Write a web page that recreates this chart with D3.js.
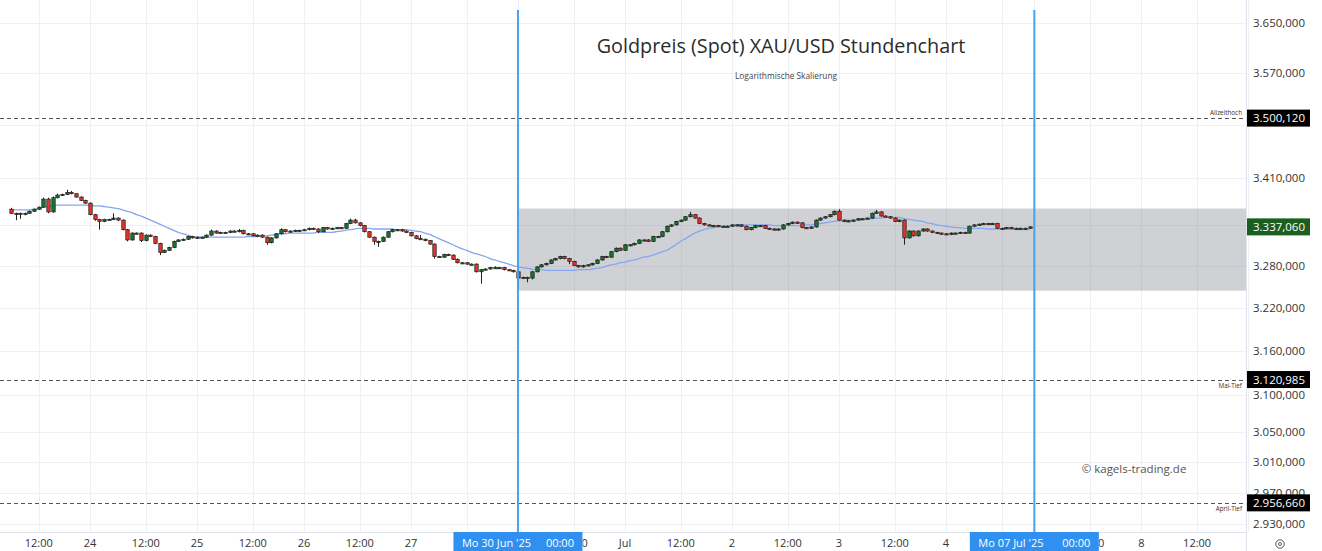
<!DOCTYPE html>
<html><head><meta charset="utf-8">
<script src="https://cdn.jsdelivr.net/npm/d3@7"></script>
<style>html,body{margin:0;padding:0;background:#fff;}svg{display:block;font-family:"Open Sans",sans-serif;}</style>
</head><body><svg id="c" width="1322" height="551"></svg>
<script>
// ---- trading sessions (hourly bars, CEST) ----
const sessionDays = ["2025-06-23","2025-06-24","2025-06-25","2025-06-26","2025-06-27","2025-06-30","2025-07-01","2025-07-02","2025-07-03","2025-07-04","2025-07-07","2025-07-08","2025-07-09"];
const sessionStartHour = [6,0,0,0,0,0,0,0,0,0,0,0,0];
const sessionBars = [17,23,23,23,23,23,23,23,23,19,23,23,23];

// ---- closes per day ----
const firstOpen = 3363;
const closeJun23 = [3357,3357,3356,3357,3360,3363,3366,3378,3359,3380,3384,3385,3388,3386,3381,3376,3372];
const closeJun24 = [3355,3348,3345,3348,3348,3350,3347,3333,3318,3328,3328,3317,3325,3323,3313,3300,3303,3307,3316,3318,3319,3323,3321];
const closeJun25 = [3322,3322,3325,3331,3328,3329,3329,3331,3330,3332,3327,3327,3324,3325,3322,3314,3321,3327,3333,3330,3331,3332,3332];
const closeJun26 = [3333,3335,3334,3330,3336,3334,3335,3336,3335,3342,3347,3343,3339,3330,3322,3316,3316,3322,3330,3333,3333,3331,3329];
const closeJun27 = [3324,3320,3319,3317,3312,3294,3293,3297,3296,3290,3285,3285,3283,3283,3272,3275,3276,3278,3278,3278,3275,3274,3272];
const closeJun30 = [3263,3264,3263,3272,3279,3282,3284,3289,3291,3294,3291,3287,3281,3279,3281,3282,3284,3289,3294,3293,3301,3306,3303];
const closeJul01 = [3311,3311,3313,3318,3318,3316,3323,3323,3330,3338,3340,3345,3347,3352,3355,3350,3342,3340,3339,3339,3338,3338,3338];
const closeJul02 = [3340,3340,3338,3333,3336,3339,3339,3335,3334,3334,3334,3340,3342,3344,3343,3336,3335,3337,3347,3350,3352,3355,3360];
const closeJul03 = [3347,3345,3346,3347,3349,3349,3350,3357,3359,3353,3352,3350,3345,3347,3321,3331,3324,3331,3334,3331,3329,3328,3327];
const closeJul04 = [3326,3328,3328,3329,3328,3338,3340,3341,3342,3341,3342,3335,3335,3336,3335,3335,3335,3335,3337.06];

// ---- wick lengths above body / below body (USD), one row per day ----
const wickUp = [
 2,1,1,1,1,1,1,2,2,2,2,1,4,2,1,1,1,
 1,1,1,1,1,7,1,1,1,1,1,1,1,1,1,1,1,1,1,1,1,1,1,
 1,1,1,2,1,1,1,1,1,2,1,1,1,1,1,1,1,1,2,1,1,1,1,
 1,1,1,1,1,1,1,1,1,1,2,2,1,1,1,1,1,1,1,1,1,1,1,
 1,1,5,1,1,1,1,1,1,1,1,1,1,1,1,1,1,1,2,1,1,1,1,
 1,1,1,1,1,1,1,1,1,1,1,1,1,1,1,1,1,1,1,1,1,1,1,
 1,1,1,1,1,1,1,1,1,1,1,1,1,1,4,1,1,1,1,1,1,1,1,
 1,1,1,1,1,1,1,1,1,1,1,1,1,1,1,1,1,1,1,1,1,1,1,
 3,1,1,1,1,1,1,1,3,1,1,1,1,1,1,1,1,1,1,1,1,1,1,
 1,1,1,1,1,1,1,1,1,1,1,1,1,1,1,1,1,1,1];
const wickDown = [
 1,10,7,2,1,1,1,1,2,1,1,1,1,1,1,1,1,
 1,2,12,1,1,1,1,1,2,1,1,2,1,1,1,4,1,1,1,1,1,1,1,
 1,1,1,1,1,1,1,1,1,1,1,1,1,1,1,3,1,1,1,1,1,1,1,
 1,1,1,2,1,1,1,1,1,1,1,1,1,1,1,5,8,1,1,1,1,1,1,
 1,1,1,1,1,3,1,1,1,1,1,1,1,1,1,17,1,1,1,1,1,1,1,
 15,1,6,2,1,1,1,1,1,1,1,4,1,1,1,1,1,1,1,1,1,1,1,
 1,1,1,1,1,1,1,1,1,1,1,1,1,1,1,1,1,1,1,1,1,1,1,
 1,1,1,1,1,1,1,1,1,1,1,1,1,1,1,1,1,1,1,1,1,1,1,
 1,1,1,1,1,1,1,1,1,1,1,1,1,1,10,1,1,1,1,1,1,1,1,
 1,1,1,1,1,1,1,1,1,1,1,1,1,1,1,1,1,1,1];

// ---- moving average, one value per bar ----
const maValues = [
 3362,3362,3362,3362,3362,3363,3364,3366,3367,3368,
 3369,3369,3369,3369,3369,3369,3369,3369,3368,3368,
 3367,3366,3365,3364,3362,3360,3358,3355,3353,3350,
 3347,3344,3341,3338,3335,3332,3329,3327,3325,3323,
 3322,3322,3322,3322,3322,3322,3322,3322,3322,3322,
 3322,3323,3323,3323,3324,3324,3325,3326,3327,3327,
 3328,3328,3328,3328,3328,3328,3329,3329,3329,3329,
 3330,3331,3332,3333,3334,3335,3335,3335,3334,3334,
 3334,3334,3334,3333,3333,3333,3332,3331,3330,3328,
 3326,3323,3320,3317,3314,3311,3308,3305,3303,3300,
 3298,3296,3294,3291,3289,3287,3285,3283,3281,3279,
 3278,3277,3276,3275,3275,3274,3274,3274,3274,3274,
 3274,3274,3275,3275,3275,3276,3277,3278,3280,3282,
 3283,3285,3286,3288,3289,3291,3293,3294,3296,3298,
 3301,3303,3307,3311,3316,3320,3324,3328,3331,3333,
 3335,3336,3337,3338,3339,3339,3340,3340,3340,3340,
 3340,3340,3340,3340,3339,3339,3339,3339,3339,3339,
 3339,3340,3340,3341,3342,3343,3344,3345,3346,3346,
 3347,3347,3348,3348,3349,3349,3350,3350,3351,3351,
 3351,3351,3349,3348,3347,3346,3345,3343,3342,3340,
 3339,3338,3337,3336,3336,3335,3335,3335,3335,3335,
 3334,3334,3334,3334,3334,3334,3333,3333,3333,3333];

// ---- axis ticks ----
const yGridValues = [3650,3570,3490,3410,3340,3280,3220,3160,3100,3050,3010,2970,2930];
const yTickValues = [3650,3570,3410,3280,3220,3160,3100,3050,3010,2970,2930];
const xTickDays  = ["2025-06-23","2025-06-24","2025-06-24","2025-06-25","2025-06-25","2025-06-26","2025-06-26","2025-06-27","2025-06-27","2025-06-30","2025-06-30","2025-07-01","2025-07-01","2025-07-02","2025-07-02","2025-07-03","2025-07-03","2025-07-04","2025-07-04","2025-07-07","2025-07-07","2025-07-08","2025-07-08","2025-07-09"];
const xTickHours = [12,0,12,0,12,0,12,0,12,0,12,0,12,0,12,0,12,0,12,0,12,0,12,0];
const xTickLabels= ["12:00","24","12:00","25","12:00","26","12:00","27","12:00","30","12:00","Jul","12:00","2","12:00","3","12:00","4","12:00","7","12:00","8","12:00","9"];

// ---- levels & annotations ----
const levelValues = [3500.12, 3120.985, 2956.66];
const levelLabels = ["Allzeithoch", "Mai-Tief", "April-Tief"];
const levelBadges = ["3.500,120", "3.120,985", "2.956,660"];
const zoneRange = [3245, 3364];
const markerDays = ["2025-06-30", "2025-07-07"];
const markerTexts = ["Mo 30 Jun '25", "Mo 07 Jul '25"];
const lastPrice = 3337.06;
const lastPriceLabel = "3.337,060";
const titleText = "Goldpreis (Spot) XAU/USD Stundenchart";
const subtitleText = "Logarithmische Skalierung";
const watermarkText = "© kagels-trading.de";

// ================== drawing ==================
const W = 1322, H = 551, plotR = 1246, axisY = 532, badgeW = 129;
const svg = d3.select("#c");

function barIndex(day, hour) {
  const k = sessionDays.indexOf(day);
  let s = 0;
  for (let j = 0; j < k; j++) s += sessionBars[j];
  return s + hour - sessionStartHour[k];
}

const closes = [].concat(closeJun23, closeJun24, closeJun25, closeJun26, closeJun27, closeJun30, closeJul01, closeJul02, closeJul03, closeJul04);
const bars = closes.map((c, i) => {
  const o = i === 0 ? firstOpen : closes[i - 1];
  return { i, o, c, h: Math.max(o, c) + wickUp[i], l: Math.min(o, c) - wickDown[i] };
});

const x = d3.scaleLinear().domain([-2.34, 265.5]).range([0, plotR]);
const y = d3.scaleLog().domain([2930, 3650]).range([523.5, 22.5]);

const deFmt = v => d3.format(",.3f")(v).replace(/,/g, "#").replace(".", ",").replace("#", ".");

// grid
const gGrid = svg.append("g");
gGrid.selectAll("line.h").data(yGridValues).join("line")
  .attr("x1", 0).attr("x2", plotR)
  .attr("y1", d => Math.round(y(d)) + 0.5).attr("y2", d => Math.round(y(d)) + 0.5)
  .attr("stroke", "#eff0f3").attr("stroke-width", 1);
const xTickIdx = xTickDays.map((d, k) => barIndex(d, xTickHours[k]));
gGrid.selectAll("line.v").data(xTickIdx).join("line")
  .attr("x1", d => Math.round(x(d)) + 0.5).attr("x2", d => Math.round(x(d)) + 0.5)
  .attr("y1", 0).attr("y2", axisY)
  .attr("stroke", "#eff0f3").attr("stroke-width", 1);

// zone box
const markerIdx = markerDays.map(d => barIndex(d, 0));
svg.append("rect")
  .attr("x", x(markerIdx[0])).attr("width", plotR - x(markerIdx[0]))
  .attr("y", y(zoneRange[1])).attr("height", y(zoneRange[0]) - y(zoneRange[1]))
  .attr("fill", "#787b86").attr("fill-opacity", 0.35);

// level dashed lines
svg.selectAll("line.lvl").data(levelValues).join("line")
  .attr("x1", 0).attr("x2", plotR)
  .attr("y1", d => Math.round(y(d)) + 0.5).attr("y2", d => Math.round(y(d)) + 0.5)
  .attr("stroke", "#555").attr("stroke-width", 1).attr("stroke-dasharray", "4,3");
svg.selectAll("text.lvl").data(levelValues).join("text")
  .attr("x", 1242).attr("y", (d, k) => k === 0 ? y(d) - 3 : y(d) + 8.5)
  .attr("text-anchor", "end").attr("font-size", 6.3).attr("fill", "#333")
  .text((d, k) => levelLabels[k]);

// title
svg.append("text").attr("x", 781).attr("y", 53).attr("text-anchor", "middle")
  .attr("font-size", 19.8).attr("fill", "#2b2b2b").attr("font-weight", 500).text(titleText);
svg.append("text").attr("x", 786).attr("y", 78.5).attr("text-anchor", "middle")
  .attr("font-size", 8.3).attr("fill", "#444").text(subtitleText);
svg.append("text").attr("x", 1134).attr("y", 473).attr("text-anchor", "middle")
  .attr("font-size", 11.5).attr("fill", "#555").text(watermarkText);

// moving average
svg.append("path").datum(maValues)
  .attr("d", d3.line().x((d, i) => x(i)).y(d => y(d)).curve(d3.curveMonotoneX))
  .attr("fill", "none").attr("stroke", "#86a6f2").attr("stroke-width", 1.3);

// candles
const gC = svg.append("g");
const bw = 3.4;
gC.selectAll("line.w").data(bars).join("line")
  .attr("x1", d => Math.round(x(d.i)) + 0.5).attr("x2", d => Math.round(x(d.i)) + 0.5)
  .attr("y1", d => y(d.h)).attr("y2", d => y(d.l))
  .attr("stroke", "#222").attr("stroke-width", 1);
gC.selectAll("rect").data(bars).join("rect")
  .attr("x", d => Math.round(x(d.i)) + 0.5 - bw / 2)
  .attr("width", bw)
  .attr("y", d => y(Math.max(d.o, d.c)))
  .attr("height", d => Math.max(1.2, Math.abs(y(d.o) - y(d.c))))
  .attr("fill", d => d.c >= d.o ? "#1d7430" : "#e3342b")
  .attr("stroke", "#1a1a1a").attr("stroke-width", 0.7);

// vertical marker lines
svg.selectAll("line.mk").data(markerIdx).join("line")
  .attr("x1", d => x(d)).attr("x2", d => x(d))
  .attr("y1", 10).attr("y2", axisY)
  .attr("stroke", "#45a2f0").attr("stroke-width", 2);

// axes frame
svg.append("line").attr("x1", 0).attr("x2", plotR).attr("y1", axisY + 0.5).attr("y2", axisY + 0.5)
  .attr("stroke", "#e0e3eb");
svg.append("line").attr("x1", plotR + 0.5).attr("x2", plotR + 0.5).attr("y1", 0).attr("y2", H)
  .attr("stroke", "#e0e3eb");

// y axis labels
const gY = svg.append("g").attr("transform", `translate(${plotR},0)`);
gY.call(d3.axisRight(y).tickValues(yTickValues).tickSize(0).tickPadding(7).tickFormat(deFmt));
gY.select(".domain").remove();
gY.selectAll("text").attr("font-size", 11.5).attr("fill", "#333").attr("font-family", "Open Sans");

// level badges
const badge = (val, label, fill) => {
  const g = svg.append("g");
  g.append("rect").attr("x", 1247).attr("y", y(val) - 8.5).attr("width", 63).attr("height", 17).attr("fill", fill);
  g.append("text").attr("x", 1253).attr("y", y(val)).attr("dy", "0.35em")
    .attr("font-size", 11.5).attr("fill", "#fff").text(label);
};
levelValues.forEach((v, k) => badge(v, levelBadges[k], "#000"));
badge(lastPrice, lastPriceLabel, "#1b5e20");

// x axis labels: only those at least partly visible between marker badges
const mx = markerIdx.map(d => x(d));
const segs = [[0, mx[0] - badgeW / 2], [mx[0] + badgeW / 2, mx[1] - badgeW / 2], [mx[1] + badgeW / 2, plotR]];
const cp = svg.append("clipPath").attr("id", "xc");
segs.forEach(s => cp.append("rect").attr("x", s[0]).attr("y", axisY).attr("width", s[1] - s[0]).attr("height", H - axisY));
const labelW = t => t.length * 5.8;
const visibleTicks = xTickIdx.map((d, k) => ({ d, t: xTickLabels[k] }))
  .filter(o => segs.some(s => Math.min(s[1], x(o.d) + labelW(o.t) / 2) - Math.max(s[0], x(o.d) - labelW(o.t) / 2) > 3));
const gX = svg.append("g").attr("clip-path", "url(#xc)");
gX.selectAll("text").data(visibleTicks).join("text")
  .attr("x", o => x(o.d)).attr("y", 543).attr("dy", "0.35em").attr("text-anchor", "middle")
  .attr("font-size", 11).attr("fill", "#333").text(o => o.t);

// x marker badges
mx.forEach((cx, k) => {
  const g = svg.append("g");
  g.append("rect").attr("x", cx - badgeW / 2).attr("y", axisY).attr("width", badgeW).attr("height", H - axisY).attr("fill", "#2f90f0");
  g.append("text").attr("x", cx - 56).attr("y", 543).attr("dy", "0.35em").attr("font-size", 11).attr("fill", "#fff").text(markerTexts[k]);
  g.append("text").attr("x", cx + 56).attr("y", 543).attr("dy", "0.35em").attr("text-anchor", "end").attr("font-size", 11).attr("fill", "#fff").text("00:00");
});

// settings icon
svg.append("circle").attr("cx", 1280).attr("cy", 544).attr("r", 4.2).attr("fill", "none").attr("stroke", "#555").attr("stroke-width", 1);
svg.append("circle").attr("cx", 1280).attr("cy", 544).attr("r", 1.5).attr("fill", "none").attr("stroke", "#555").attr("stroke-width", 0.9);
</script></body></html>
